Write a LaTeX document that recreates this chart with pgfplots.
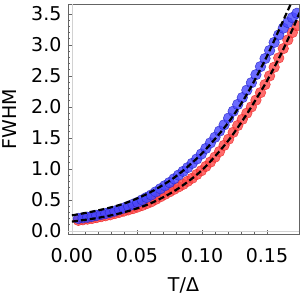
\documentclass[border=0pt]{standalone}
\usepackage{fontspec}
\setmainfont{DejaVu Sans}
\usepackage{pgfplots}
\pgfplotsset{compat=1.18}
\definecolor{bfill}{RGB}{70,70,255}
\definecolor{bdraw}{RGB}{40,40,200}
\definecolor{rfill}{RGB}{255,70,70}
\definecolor{rdraw}{RGB}{235,45,45}
\definecolor{framegray}{RGB}{100,100,100}
\pgfplotstableread{
x blue red
0.0050 0.200 0.170
0.0085 0.210 0.180
0.0120 0.220 0.190
0.0155 0.235 0.200
0.0190 0.250 0.215
0.0225 0.265 0.230
0.0260 0.280 0.245
0.0295 0.300 0.260
0.0330 0.320 0.280
0.0365 0.345 0.300
0.0400 0.370 0.320
0.0435 0.400 0.340
0.0470 0.430 0.360
0.0505 0.460 0.385
0.0540 0.500 0.410
0.0575 0.540 0.440
0.0610 0.580 0.470
0.0645 0.630 0.510
0.0680 0.680 0.550
0.0715 0.730 0.590
0.0750 0.780 0.630
0.0785 0.840 0.670
0.0820 0.900 0.710
0.0855 0.960 0.750
0.0890 1.020 0.800
0.0925 1.090 0.850
0.0960 1.160 0.910
0.0995 1.240 0.970
0.1030 1.330 1.040
0.1065 1.420 1.110
0.1100 1.510 1.190
0.1135 1.610 1.280
0.1170 1.710 1.380
0.1205 1.820 1.480
0.1240 1.930 1.590
0.1275 2.040 1.700
0.1310 2.150 1.800
0.1345 2.270 1.900
0.1380 2.390 2.000
0.1415 2.520 2.110
0.1450 2.650 2.230
0.1485 2.780 2.360
0.1520 2.910 2.500
0.1555 3.040 2.640
0.1590 3.160 2.790
0.1625 3.270 2.940
0.1660 3.360 3.080
0.1695 3.440 3.200
0.1730 3.510 3.310
}\datatable
\pgfplotstableread{
x y
0.000 0.25
0.020 0.33
0.040 0.44
0.060 0.62
0.080 0.88
0.100 1.25
0.120 1.74
0.135 2.22
0.150 2.82
0.160 3.28
0.170 3.74
0.175 3.98
}\fitblue
\pgfplotstableread{
x y
0.000 0.15
0.020 0.21
0.040 0.30
0.060 0.44
0.080 0.66
0.100 0.98
0.120 1.45
0.135 1.90
0.140 2.07
0.150 2.42
0.160 2.82
0.170 3.27
0.175 3.52
}\fitred
\begin{document}
\fontsize{19}{22}\selectfont
\begin{tikzpicture}
\begin{axis}[
 scale only axis, width=231pt, height=230pt,
 xmin=-0.003, xmax=0.1746, ymin=-0.05, ymax=3.66,
 clip=true, clip marker paths=true,
 axis line style={framegray, line width=0.8pt},
 xtick={0,0.05,0.1,0.15}, xticklabels={0.00,0.05,0.10,0.15},
 ytick={0,0.5,1,1.5,2,2.5,3,3.5}, yticklabels={0.0,0.5,1.0,1.5,2.0,2.5,3.0,3.5},
 minor x tick num=4, minor y tick num=4,
 tick align=inside, tick pos=left,
 major tick length=4pt, minor tick length=2.5pt,
 every tick/.style={framegray, line width=0.6pt},
 tick label style={font=\fontsize{19}{22}\selectfont},
 xticklabel style={yshift=-8pt},
 label style={font=\fontsize{19}{22}\selectfont},
 /pgf/number format/assume math mode=true,
 xlabel={T/Δ}, ylabel={FWHM},
 xlabel style={at={(axis description cs:0.5,-0.222)}, anchor=center},
 ylabel style={at={(axis description cs:-0.255,0.5)}, anchor=center},
]
\addplot[gray!35, line width=0.8pt, forget plot] coordinates {(0,-0.05) (0,3.66)};
\addplot[gray!35, line width=0.8pt, forget plot] coordinates {(-0.003,0) (0.1746,0)};
\addplot[only marks, mark=*, mark size=5.3pt, mark options={fill=rfill, draw=rdraw, fill opacity=0.8, draw opacity=0.85, line width=0.5pt}] table[x=x, y=red] {\datatable};
\addplot[only marks, mark=*, mark size=5.3pt, mark options={fill=bfill, draw=bdraw, fill opacity=0.8, draw opacity=0.85, line width=0.5pt}] table[x=x, y=blue] {\datatable};
\addplot[black, line width=2.2pt, dash pattern=on 6pt off 3pt, smooth] table[x=x, y=y] {\fitblue};
\addplot[black, line width=2.2pt, dash pattern=on 6pt off 3pt, smooth] table[x=x, y=y] {\fitred};
\end{axis}
\pgfresetboundingbox
\path ([shift={(-68pt,-61pt)}]current axis.south west) rectangle ([shift={(1pt,4pt)}]current axis.north east);
\end{tikzpicture}
\end{document}
